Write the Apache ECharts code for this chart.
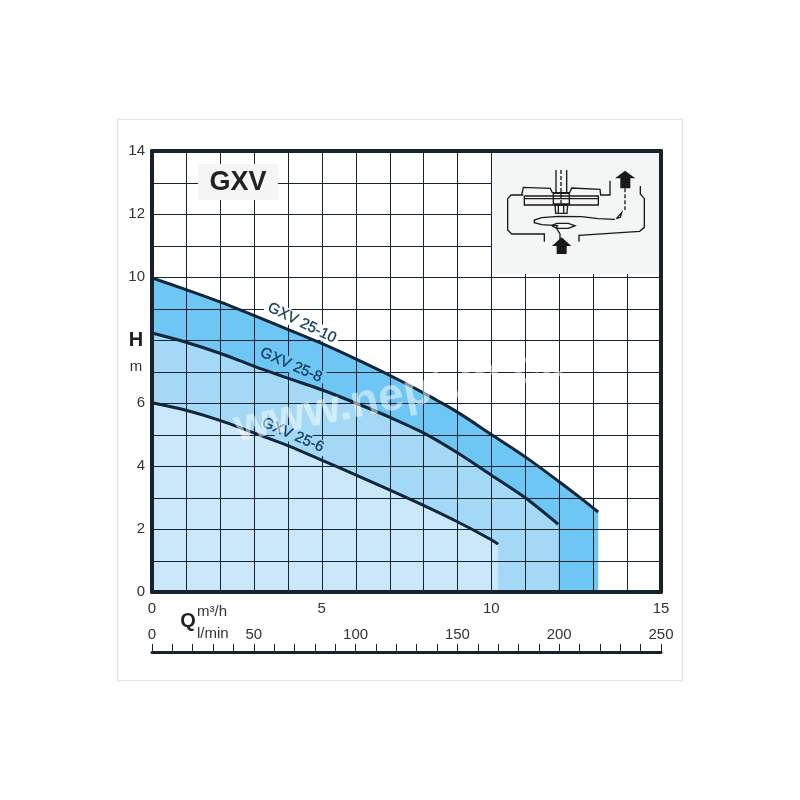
<!DOCTYPE html>
<html>
<head>
<meta charset="utf-8">
<style>
  html, body { margin: 0; padding: 0; background: #fff; }
  #chart1 { width: 800px; height: 800px; }
</style>
<script src="https://cdn.jsdelivr.net/npm/echarts@6/dist/echarts.min.js"></script>
</head>
<body>
<div id="chart1"></div>
<script>
// values: Q in m3/h, H in m
var q10 = [0, 1, 2, 3, 4, 5, 6, 7, 8, 9, 10, 11, 12, 12.68, 13.15];
var h10 = [9.97, 9.6, 9.21, 8.78, 8.34, 7.89, 7.4, 6.88, 6.32, 5.71, 5.0, 4.29, 3.5, 2.94, 2.54];
var q8 = [0, 1, 2, 3, 4, 5, 6, 7, 8, 9, 10, 11, 11.97];
var h8 = [8.22, 7.93, 7.58, 7.17, 6.79, 6.42, 6.0, 5.55, 5.05, 4.42, 3.71, 2.99, 2.15];
var q6 = [0, 1, 2, 3, 4, 5, 6, 7, 8, 9, 10, 10.2];
var h6 = [6.01, 5.77, 5.45, 5.05, 4.65, 4.19, 3.72, 3.24, 2.75, 2.23, 1.66, 1.52];

var hTicks = [0, 2, 4, 6, 10, 12, 14];
var qTicks = [0, 5, 10, 15];
var lminTicks = [0, 50, 100, 150, 200, 250];
var hGrid = [1, 2, 3, 4, 5, 6, 7, 8, 9, 10, 11, 12, 13];
var qGrid = [1, 2, 3, 4, 5, 6, 7, 8, 9, 10, 11, 12, 13, 14];

var lineColor = '#10263a';
var gridColor = '#16222e';
var textColor = '#333';
var fontName = '"Liberation Sans", Arial, sans-serif';

function pairs(xs, ys) {
    return xs.map(function (x, i) { return [x, ys[i]]; });
}

function curve(name, xs, ys, fill, labelAt, labelBg, angle) {
    return {
        name: name,
        type: 'line',
        z: 2,
        xAxisIndex: 0,
        yAxisIndex: 0,
        data: pairs(xs, ys),
        smooth: 0.3,
        showSymbol: false,
        lineStyle: { color: lineColor, width: 3 },
        areaStyle: { color: fill, opacity: 1 },
        markPoint: {
            symbol: 'circle',
            symbolSize: 0,
            z: 5,
            data: [{
                coord: labelAt,
                label: {
                    show: true,
                    position: 'inside',
                    formatter: name,
                    rotate: angle,
                    color: '#123a5a',
                    fontFamily: fontName,
                    fontSize: 15,
                    textBorderColor: '#123a5a',
                    textBorderWidth: 0.3,
                    backgroundColor: labelBg,
                    padding: [0, 3]
                }
            }]
        }
    };
}

// grid has to sit over the filled bands, so it is a series of its own
var gridData = qGrid.map(function (q) { return [q, 0, 0]; })
    .concat(hGrid.map(function (h) { return [0, h, 1]; }));

function renderGridLine(params, api) {
    var a, b;
    if (api.value(2) === 0) {
        a = api.coord([api.value(0), 0]);
        b = api.coord([api.value(0), 14]);
    } else {
        a = api.coord([0, api.value(1)]);
        b = api.coord([15, api.value(1)]);
    }
    return {
        type: 'line',
        shape: {
            x1: Math.round(a[0]) + 0.5, y1: Math.round(a[1]) + 0.5,
            x2: Math.round(b[0]) + 0.5, y2: Math.round(b[1]) + 0.5
        },
        style: { stroke: gridColor, lineWidth: 1, fill: null }
    };
}

// inset sketch of the pump, traced in 3x crop pixels and scaled down
var sketchLines = [
    [[55, 105], [18, 105], [8, 116], [8, 210], [20, 222], [118, 222], [118, 245]],
    [[222, 245], [222, 226], [404, 214], [418, 202], [418, 116], [406, 102], [406, 78]],
    [[315, 62], [315, 105], [287, 105], [285, 88], [200, 84], [194, 98], [142, 98], [136, 85], [55, 82], [50, 105]],
    [[58, 108], [280, 108], [280, 135], [58, 135], [58, 108]],
    [[58, 116], [280, 116]],
    [[153, 30], [153, 98]],
    [[185, 30], [185, 98]],
    [[145, 100], [193, 100], [193, 132], [145, 132], [145, 100]],
    [[150, 135], [188, 135], [186, 160], [152, 160], [150, 135]],
    [[160, 135], [160, 160]],
    [[176, 135], [176, 160]],
    [[330, 178], [280, 176], [230, 170], [160, 169], [110, 173], [88, 180], [88, 188], [110, 194], [160, 197]],
    [[140, 197], [155, 190], [190, 190], [210, 197], [190, 205], [155, 205], [140, 197]],
    [[156, 197], [155, 206], [165, 222], [165, 240]],
    [[334, 176], [350, 158], [346, 172], [334, 176]]
];
var sketchDashes = [
    [[168, 30], [168, 130]],
    [[360, 85], [360, 150]]
];
var sketchArrows = [
    [[170, 232], [199, 258], [185, 258], [185, 282], [155, 282], [155, 258], [141, 258]],
    [[360, 32], [391, 55], [376, 55], [376, 85], [346, 85], [346, 55], [330, 55]]
];

function sketchChildren() {
    var out = [];
    sketchLines.forEach(function (p) {
        out.push({ type: 'polyline', z: 11, shape: { points: p }, style: { fill: null, stroke: '#1a1a1a', lineWidth: 4 } });
    });
    sketchDashes.forEach(function (p) {
        out.push({ type: 'polyline', z: 11, shape: { points: p }, style: { fill: null, stroke: '#1a1a1a', lineWidth: 4, lineDash: [12, 6] } });
    });
    sketchArrows.forEach(function (p) {
        out.push({ type: 'polygon', z: 11, shape: { points: p }, style: { fill: '#1a1a1a', stroke: null } });
    });
    return out;
}

var chart = echarts.init(document.getElementById('chart1'));
chart.setOption({
    animation: false,
    backgroundColor: '#fff',
    textStyle: { fontFamily: fontName },
    grid: { left: 152, right: 139, top: 151, bottom: 208 },
    xAxis: [
        {
            type: 'value', position: 'bottom', min: 0, max: 15, interval: 1, z: 6,
            axisLine: { show: true, onZero: false, lineStyle: { color: gridColor, width: 4 } },
            axisTick: { show: false },
            axisLabel: {
                color: textColor, fontSize: 15, margin: 9,
                formatter: function (v) { return qTicks.indexOf(v) >= 0 ? v : ''; }
            },
            splitLine: { show: false }
        },
        {
            type: 'value', position: 'bottom', offset: 60, min: 0, max: 250, interval: 10,
            axisLine: { show: true, onZero: false, lineStyle: { color: gridColor, width: 3 } },
            axisTick: { show: true, inside: true, length: 8, lineStyle: { color: gridColor, width: 1 } },
            axisLabel: {
                inside: true, color: textColor, fontSize: 15, margin: 10,
                formatter: function (v) { return lminTicks.indexOf(v) >= 0 ? v : ''; }
            },
            splitLine: { show: false }
        },
        {
            type: 'value', position: 'top', min: 0, max: 15, z: 6,
            axisLine: { show: true, onZero: false, lineStyle: { color: gridColor, width: 4 } },
            axisTick: { show: false }, axisLabel: { show: false }, splitLine: { show: false }
        }
    ],
    yAxis: [
        {
            type: 'value', position: 'left', min: 0, max: 14, interval: 1, z: 6,
            axisLine: { show: true, onZero: false, lineStyle: { color: gridColor, width: 4 } },
            axisTick: { show: false },
            axisLabel: {
                color: textColor, fontSize: 15, margin: 7,
                formatter: function (v) { return hTicks.indexOf(v) >= 0 ? v : ''; }
            },
            splitLine: { show: false }
        },
        {
            type: 'value', position: 'right', min: 0, max: 14, z: 6,
            axisLine: { show: true, onZero: false, lineStyle: { color: gridColor, width: 4 } },
            axisTick: { show: false }, axisLabel: { show: false }, splitLine: { show: false }
        }
    ],
    series: [
        curve('GXV 25-10', q10, h10, '#6dc6f3', [4.42, 8.54], '#fff', -26),
        curve('GXV 25-8', q8, h8, '#a3d9f6', [4.1, 7.2], '#6dc6f3', -23.5),
        curve('GXV 25-6', q6, h6, '#cbe8fb', [4.15, 4.98], '#a3d9f6', -23.5),
        {
            name: 'grid',
            type: 'custom',
            z: 3,
            silent: true,
            clip: false,
            xAxisIndex: 0,
            yAxisIndex: 0,
            encode: { x: 0, y: 1 },
            data: gridData,
            renderItem: renderGridLine
        }
    ],
    graphic: [
        { type: 'rect', z: -1, shape: { x: 117.5, y: 119.5, width: 565, height: 561 }, style: { fill: 'none', stroke: '#e2e2e2' } },
        // watermark
        {
            type: 'text', z: 8, x: 398, y: 396, rotation: 0.2,
            style: { text: 'www.neptun.cz', font: 'bold 46px ' + fontName, fill: 'rgba(255,255,255,0.5)', align: 'center', verticalAlign: 'middle' }
        },
        // title box
        { type: 'rect', z: 10, shape: { x: 198, y: 164, width: 80, height: 36 }, style: { fill: '#f5f5f5' } },
        {
            type: 'text', z: 11, x: 238, y: 183,
            style: { text: 'GXV', font: 'bold 27px ' + fontName, fill: '#222', align: 'center', verticalAlign: 'middle' }
        },
        // inset
        { type: 'rect', z: 10, shape: { x: 492, y: 153, width: 167, height: 121 }, style: { fill: '#f4f6f6' } },
        { type: 'group', x: 505, y: 160, scaleX: 1 / 3, scaleY: 1 / 3, children: sketchChildren() },
        // axis names
        { type: 'text', z: 11, x: 136, y: 340, style: { text: 'H', font: 'bold 20px ' + fontName, fill: '#222', align: 'center', verticalAlign: 'middle' } },
        { type: 'text', z: 11, x: 136, y: 367, style: { text: 'm', font: '15px ' + fontName, fill: textColor, align: 'center', verticalAlign: 'middle' } },
        { type: 'text', z: 11, x: 188, y: 621, style: { text: 'Q', font: 'bold 20px ' + fontName, fill: '#222', align: 'center', verticalAlign: 'middle' } },
        { type: 'text', z: 11, x: 197, y: 612, style: { text: 'm\u00b3/h', font: '15px ' + fontName, fill: textColor, align: 'left', verticalAlign: 'middle' } },
        { type: 'text', z: 11, x: 197, y: 634, style: { text: 'l/min', font: '15px ' + fontName, fill: textColor, align: 'left', verticalAlign: 'middle' } }
    ]
});
</script>
</body>
</html>
